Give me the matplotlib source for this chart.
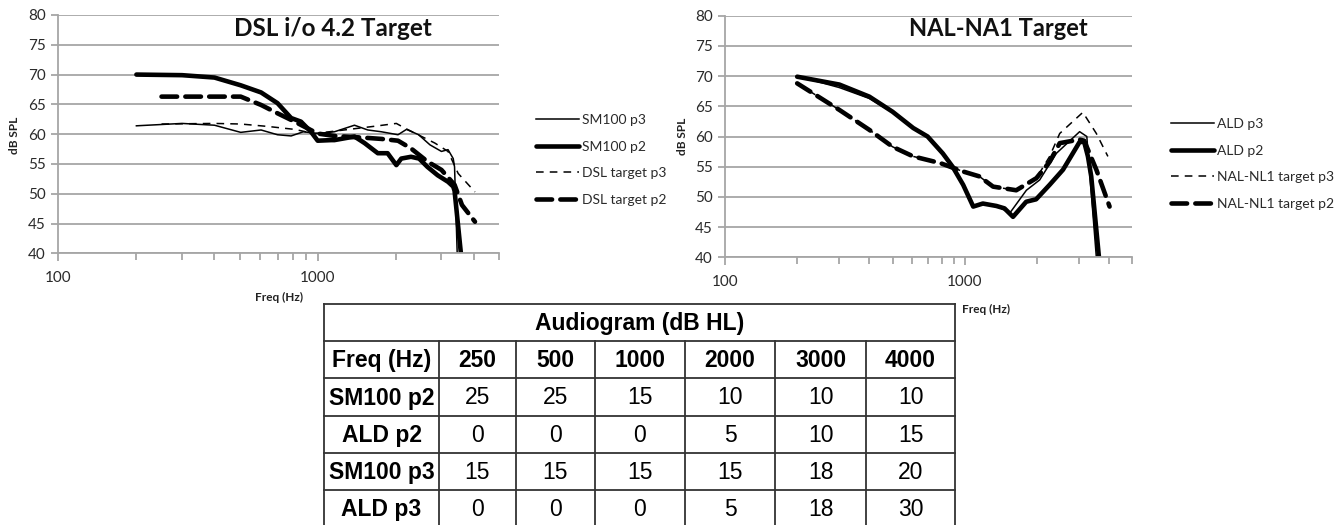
"""
DSL i/o 4.2 and NAL-NL1 target curves with the audiogram table underneath.
"""

import matplotlib
matplotlib.use("Agg")
import matplotlib.pyplot as plt
from matplotlib.ticker import FixedLocator, NullFormatter

plt.rcParams["font.family"] = ["Lato", "DejaVu Sans"]

W, H = 1344, 525

# ─── Data ───────────────────────────────────────────────────────────────────

# Left panel: DSL i/o 4.2
sm100_p2_f = [200, 300, 400, 505, 605, 700, 790, 862, 942, 1000, 1128, 1160,
              1386, 1516, 1705, 1860, 2010, 2100, 2290, 2460, 2650, 2900,
              3180, 3330, 3370, 3565]
sm100_p2_db = [70.0, 69.9, 69.5, 68.2, 67.0, 65.2, 62.7, 62.1, 60.4, 58.9,
               59.0, 59.0, 59.6, 58.5, 56.8, 56.8, 54.8, 55.9, 56.2, 55.9,
               54.5, 53.1, 52.0, 51.2, 50.5, 40.0]

sm100_p3_f = [200, 300, 400, 505, 605, 700, 790, 880, 1000, 1160, 1386, 1560,
              1760, 2040, 2200, 2450, 2710, 3000, 3180, 3330, 3370, 3450]
sm100_p3_db = [61.4, 61.8, 61.5, 60.3, 60.7, 59.9, 59.7, 60.4, 60.1, 60.4,
               61.5, 60.7, 60.4, 59.9, 60.8, 59.9, 58.2, 57.1, 57.4, 55.9,
               54.5, 40.0]

dsl_p3_f = [250, 400, 505, 640, 815, 970, 1160, 1640, 2010, 2170, 2830, 3180,
            3480, 4040]
dsl_p3_db = [61.7, 61.8, 61.7, 61.3, 60.8, 60.1, 60.5, 61.3, 61.8, 61.0,
             58.5, 57.1, 53.4, 50.3]

dsl_p2_f = [250, 505, 605, 700, 815, 940, 1000, 1160, 1516, 1760, 2040, 2290,
            2650, 3000, 3370, 3600, 4040]
dsl_p2_db = [66.3, 66.3, 64.9, 63.5, 62.1, 60.7, 60.1, 59.7, 59.4, 59.2,
             58.9, 57.6, 55.4, 54.0, 51.5, 48.1, 45.3]

# Right panel: NAL-NL1
ald_p2_f = [200, 300, 400, 500, 610, 700, 810, 890, 985, 1085, 1190, 1355,
            1465, 1590, 1805, 1985, 2260, 2570, 3015, 3150, 3265, 3370, 3630]
ald_p2_db = [69.9, 68.6, 66.6, 64.1, 61.4, 60.0, 57.2, 55.0, 52.0, 48.4, 48.9,
             48.5, 48.1, 46.7, 49.2, 49.6, 52.0, 54.5, 59.1, 59.1, 56.7, 53.4,
             40.0]

ald_p3_f = [200, 300, 400, 500, 610, 700, 810, 890, 985, 1085, 1190, 1355,
            1540, 1808, 2053, 2410, 3015, 3230, 3540]
ald_p3_db = [70.0, 68.1, 66.3, 64.0, 61.4, 60.0, 57.2, 55.0, 52.0, 48.6, 48.9,
             48.6, 47.3, 51.1, 52.8, 57.2, 60.8, 60.0, 40.0]

nal_p3_f = [200, 300, 400, 500, 610, 790, 985, 1150, 1313, 1640, 1990, 2260,
            2490, 3110, 3540, 3955]
nal_p3_db = [68.8, 64.4, 61.1, 58.3, 56.7, 55.6, 54.2, 53.4, 51.7, 51.1,
             53.1, 56.7, 60.5, 64.0, 60.5, 56.7]

nal_p2_f = [200, 300, 400, 500, 610, 790, 985, 1150, 1313, 1640, 1990, 2260,
            2490, 3015, 3150, 3540, 4020]
nal_p2_db = [68.8, 64.4, 61.1, 58.3, 56.7, 55.6, 54.2, 53.4, 51.7, 51.1,
             53.1, 55.8, 58.9, 59.5, 59.3, 54.5, 48.4]

# Audiogram table
table_title = "Audiogram (dB HL)"
table_freqs = ["250", "500", "1000", "2000", "3000", "4000"]
table_rows = ["SM100 p2", "ALD p2", "SM100 p3", "ALD p3"]
table_values = [
    [25, 25, 15, 10, 10, 10],
    [0, 0, 0, 5, 10, 15],
    [15, 15, 15, 15, 18, 20],
    [0, 0, 0, 5, 18, 30],
]

# ─── Styles ─────────────────────────────────────────────────────────────────

THIN = dict(color="black", linewidth=1.1, solid_joinstyle="round")
THICK = dict(color="black", linewidth=3.3, solid_joinstyle="round",
             solid_capstyle="round")
THIN_DASH = dict(color="black", linewidth=1.1, dashes=(5, 4))
THICK_DASH = dict(color="black", linewidth=3.3, dashes=(3.4, 1.8),
                  dash_capstyle="round")
GRID = "#a6a6a6"


def px_axes(fig, x0, y0, x1, y1):
    """Axes from pixel box (top-left origin)."""
    return fig.add_axes([x0 / W, 1 - y1 / H, (x1 - x0) / W, (y1 - y0) / H])


def style_chart(ax):
    ax.set_xscale("log")
    ax.set_xlim(100, 5000)
    ax.set_ylim(40, 80)
    ax.set_yticks(range(40, 81, 5))
    ax.xaxis.set_major_locator(FixedLocator([100, 1000]))
    ax.xaxis.set_major_formatter(plt.FuncFormatter(lambda v, p: f"{v:.0f}"))
    ax.xaxis.set_minor_locator(FixedLocator(
        [200, 300, 400, 500, 600, 700, 800, 900, 2000, 3000, 4000, 5000]))
    ax.xaxis.set_minor_formatter(NullFormatter())
    ax.grid(axis="y", color=GRID, linewidth=1.3)
    ax.set_axisbelow(True)
    for s in ("top", "right"):
        ax.spines[s].set_visible(False)
    for s in ("left", "bottom"):
        ax.spines[s].set_color(GRID)
        ax.spines[s].set_linewidth(1.3)
    ax.tick_params(axis="both", which="both", color=GRID, width=1.3,
                   labelsize=11, labelcolor="#2a2a2a")
    ax.tick_params(axis="x", which="major", length=6, pad=7)
    ax.tick_params(axis="x", which="minor", length=5)
    ax.tick_params(axis="y", length=5, pad=4)


def add_legend(ax, x, y):
    leg = ax.legend(loc="center left", bbox_to_anchor=(x / W, 1 - y / H),
                    bbox_transform=ax.figure.transFigure, frameon=False,
                    fontsize=10, handlelength=3.1, handletextpad=0.2,
                    labelspacing=1.05, borderpad=0, borderaxespad=0)
    for t in leg.get_texts():
        t.set_color("#2a2a2a")


fig = plt.figure(figsize=(W / 100, H / 100), dpi=100)

# ─── Left chart ─────────────────────────────────────────────────────────────
ax1 = px_axes(fig, 58.3, 15, 499, 253.3)
style_chart(ax1)
ax1.plot(sm100_p3_f, sm100_p3_db, label="SM100 p3", **THIN)
ax1.plot(sm100_p2_f, sm100_p2_db, label="SM100 p2", **THICK)
ax1.plot(dsl_p3_f, dsl_p3_db, label="DSL target p3", **THIN_DASH)
ax1.plot(dsl_p2_f, dsl_p2_db, label="DSL target p2", **THICK_DASH)
add_legend(ax1, 536, 160)
fig.text(333 / W, 1 - 29 / H, "DSL i/o 4.2 Target", ha="center", va="center",
         fontsize=17.5, fontweight="bold", color="#111111")
fig.text(14 / W, 1 - 135 / H, "dB SPL", rotation=90, ha="center",
         va="center", fontsize=8.5, fontweight="bold", color="#222222")
fig.text(279 / W, 1 - 297 / H, "Freq (Hz)", ha="center", va="center",
         fontsize=8.5, fontweight="bold", color="#222222")

# ─── Right chart ────────────────────────────────────────────────────────────
ax2 = px_axes(fig, 725, 15.7, 1132.3, 257.3)
style_chart(ax2)
ax2.plot(ald_p3_f, ald_p3_db, label="ALD p3", **THIN)
ax2.plot(ald_p2_f, ald_p2_db, label="ALD p2", **THICK)
ax2.plot(nal_p3_f, nal_p3_db, label="NAL-NL1 target p3", **THIN_DASH)
ax2.plot(nal_p2_f, nal_p2_db, label="NAL-NL1 target p2", **THICK_DASH)
add_legend(ax2, 1171, 164)
fig.text(998 / W, 1 - 29 / H, "NAL-NA1 Target", ha="center", va="center",
         fontsize=17, fontweight="bold", color="#111111")
fig.text(683 / W, 1 - 136 / H, "dB SPL", rotation=90, ha="center",
         va="center", fontsize=8.5, fontweight="bold", color="#222222")
fig.text(962 / W, 1 - 309 / H, "Freq (Hz)", ha="left", va="center",
         fontsize=8.5, fontweight="bold", color="#222222")

# ─── Audiogram table ────────────────────────────────────────────────────────
col_edges = [324, 439, 516, 595, 685, 775, 866, 955]
row_h = 37.2
top = 304
n_rows = 2 + len(table_rows)
row_edges = [top + i * row_h for i in range(n_rows + 1)]

axt = px_axes(fig, 0, 0, W, H)
axt.set_xlim(0, W)
axt.set_ylim(H, 0)
axt.axis("off")

line_kw = dict(color="#333333", linewidth=1.3)
for yv in row_edges:
    axt.plot([col_edges[0], col_edges[-1]], [yv, yv], **line_kw)
axt.plot([col_edges[0]] * 2, [row_edges[0], row_edges[-1]], **line_kw)
axt.plot([col_edges[-1]] * 2, [row_edges[0], row_edges[-1]], **line_kw)
for xv in col_edges[1:-1]:
    axt.plot([xv, xv], [row_edges[1], row_edges[-1]], **line_kw)

tbl_font = ["Liberation Sans", "DejaVu Sans"]
tsize = 16.5


def cell_center(r, c):
    return ((col_edges[c] + col_edges[c + 1]) / 2,
            (row_edges[r] + row_edges[r + 1]) / 2 + 1)


axt.text((col_edges[0] + col_edges[-1]) / 2, cell_center(0, 0)[1],
         table_title, ha="center", va="center", fontsize=tsize,
         fontweight="bold", family=tbl_font, color="black")
header = ["Freq (Hz)"] + table_freqs
for c, lab in enumerate(header):
    x, y = cell_center(1, c)
    axt.text(x, y, lab, ha="center", va="center", fontsize=tsize,
             fontweight="bold", family=tbl_font)
for r, (name, vals) in enumerate(zip(table_rows, table_values)):
    x, y = cell_center(r + 2, 0)
    axt.text(x, y, name, ha="center", va="center", fontsize=tsize,
             fontweight="bold", family=tbl_font)
    for c, v in enumerate(vals):
        x, y = cell_center(r + 2, c + 1)
        axt.text(x, y, str(v), ha="center", va="center", fontsize=tsize,
                 family=tbl_font)

fig.savefig("out.png", dpi=100, facecolor="white")
